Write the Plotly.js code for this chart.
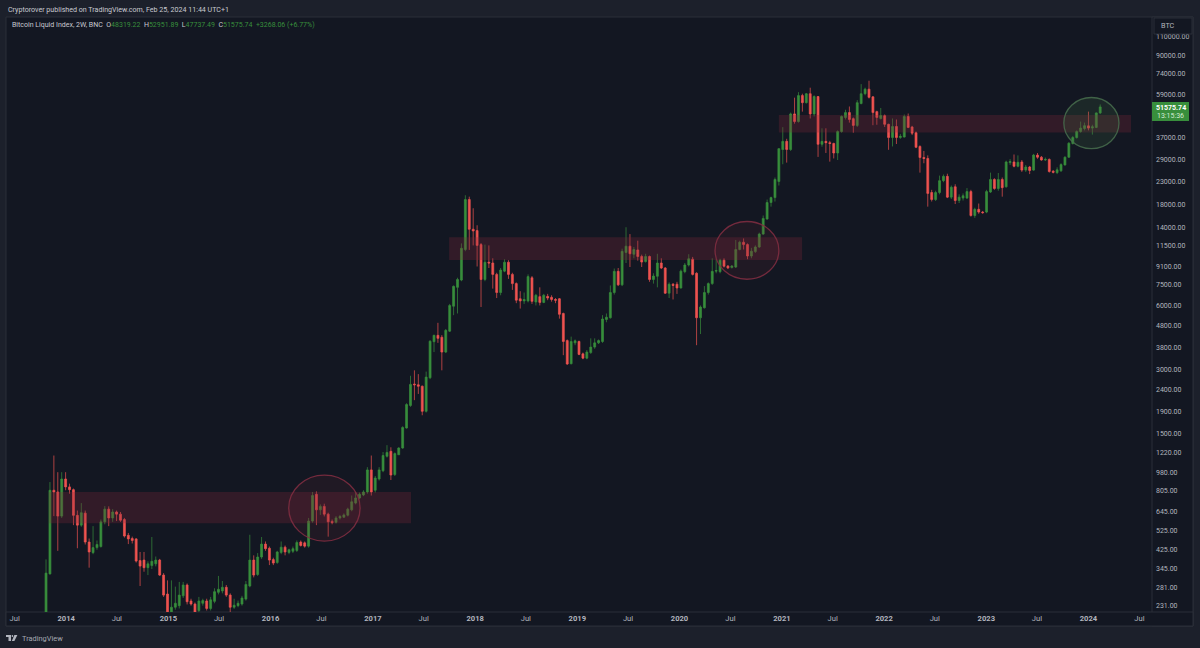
<!DOCTYPE html>
<html>
<head>
<meta charset="utf-8">
<script src="https://cdn.plot.ly/plotly-3.0.1.min.js"></script>
<style>html,body{margin:0;padding:0;background:#1c202b;}</style>
</head>
<body>
<div id="myDiv" style="width:1200px;height:648px;"></div>
<script>
// 2W bars, first bar opens 2013-10-21
let firstBar = '2013-10-21';

let opens = [
  200,327,810,795,612,915,840,815,617,555,
  632,462,412,435,440,575,660,600,640,625,
  590,497,480,478,378,380,350,358,365,380,
  323,263,205,228,232,258,290,244,236,220,
  238,244,225,243,268,272,283,260,228,232,
  236,249,287,380,325,393,452,432,382,370,
  413,437,413,418,422,462,458,442,580,775,
  655,680,625,578,572,600,605,618,655,705,
  745,770,795,1010,810,915,1000,1170,1235,960,
  1190,1280,1590,2030,2560,2540,2500,1905,2740,4050,
  4340,4250,3620,4540,5950,7300,7900,11000,18900,13700,
  13500,11600,7950,9580,9500,8400,6900,8700,9580,8400,
  7600,6450,6300,6300,8100,6230,6600,6200,6620,6550,
  6400,6450,5500,4100,3190,4000,4060,3550,3390,3600,
  3820,4000,4060,5150,5250,6900,8680,7500,10650,11400,
  10450,10950,10200,9650,10200,7950,8230,9500,9000,6850,
  7550,7550,7250,8650,9300,9900,8500,5250,5850,6900,
  7600,8700,8650,9800,9200,9050,9100,11000,11900,11600,
  10250,10750,11300,13000,15300,18300,19300,23000,32500,35500,
  32500,47800,44000,58300,54000,59500,47800,57700,34400,35500,
  35000,34700,31300,39500,46000,48500,45400,42200,53500,59500,
  62500,57500,49000,45500,46900,42700,37000,41700,37000,37200,
  46500,41500,39000,33600,29800,29500,20400,18900,20400,23200,
  24300,19400,21700,18700,19200,19200,20600,15900,17000,16500,
  16500,20500,23500,21300,23500,21700,28200,28400,27100,28400,
  26000,26900,26000,30600,29900,29000,29200,25700,25300,25800,
  27500,29900,34700,37000,39500,40800,42000,41000,41300,48319.22
];
let highs = [
  383,885,1180,985,985,985,870,825,650,705,
  650,480,549,470,590,682,680,660,650,640,
  600,510,490,482,415,415,375,488,395,385,
  330,305,305,285,300,300,295,250,240,255,
  250,250,255,280,320,303,290,265,250,245,
  258,303,500,400,410,488,465,440,390,420,
  465,445,430,440,470,470,465,600,795,800,
  695,700,635,590,612,620,630,670,765,795,
  790,810,1040,1180,945,1040,1225,1320,1290,1220,
  1290,1620,2080,2800,2970,2850,2520,2930,4120,4370,
  4970,4350,4650,6100,7450,8100,11750,19800,19500,17200,
  14300,11800,11600,11500,10000,8550,9000,9900,9800,8550,
  7700,7000,6900,8400,8250,6800,7300,6800,6800,6700,
  6500,6500,5550,4150,4280,4150,4100,3600,3700,4200,
  4200,4150,5400,5500,7450,8950,9000,11100,14000,13000,
  11300,12100,10400,10500,10300,8500,10500,10000,9100,7700,
  7650,7750,8850,9500,10450,10150,8600,6000,7400,7700,
  10000,9900,9950,10000,9300,9300,12200,12100,12400,11750,
  11200,11500,13200,15900,18900,19500,24000,33000,41400,36500,
  48500,57000,60500,59500,60000,63500,58500,58000,40900,40900,
  35700,35000,40000,47000,50000,51800,46000,55500,66000,63500,
  68500,58000,49500,51000,47500,43000,45500,45000,38500,47500,
  48000,42000,39500,34000,32000,30500,21000,20800,24500,24800,
  25000,22000,22300,20000,20200,21400,21000,17300,18100,16700,
  21000,25300,23800,25200,24000,28800,29300,30800,30500,29000,
  27500,27200,31000,31300,30300,29800,29500,26000,26800,28000,
  30200,35200,37600,40000,44000,43500,49000,42500,48600,52951.89
];
let lows = [
  190,325,612,420,600,810,780,555,432,545,
  450,350,405,425,435,560,549,575,580,575,
  485,452,455,370,287,335,323,345,355,320,
  255,190,195,222,225,252,235,232,200,215,
  232,220,220,238,262,265,255,215,224,228,
  232,245,283,315,320,385,420,360,360,365,
  405,400,405,410,415,440,435,435,570,555,
  620,610,490,560,565,590,600,610,645,695,
  735,760,780,765,790,900,985,1155,905,945,
  1190,1270,1580,2000,2150,2300,1825,1880,2700,3620,
  4000,2970,3580,4500,5400,5500,7800,10800,10950,11500,
  9150,5900,7800,9000,7200,6500,6700,8600,8000,7100,
  6150,5800,6100,6200,6100,6000,6000,6150,6350,6250,
  6150,5200,3500,3150,3170,3900,3500,3350,3350,3550,
  3750,3950,4000,5000,5200,6750,7400,7400,9500,9100,
  10000,9750,9100,9550,7750,7600,7300,8900,6800,6500,
  6400,6800,7200,8500,9150,8300,3900,4400,5800,6750,
  7500,8500,8500,9050,8900,8950,9000,10900,11000,9900,
  10000,10600,11200,12900,15200,17500,18500,22000,27700,28200,
  32000,43000,43500,49000,53500,45500,46500,30000,33500,31300,
  28500,29500,29000,39000,45000,43500,39000,41500,53000,58500,
  56500,42300,42500,45000,41500,32400,33600,34500,36500,37000,
  41000,38000,33000,25300,28000,17500,18500,18600,20000,22800,
  19200,19000,18000,18200,18700,19000,15700,15500,16200,16200,
  16300,20300,21000,20800,19500,21500,27500,26800,26800,25500,
  25500,24900,25800,29400,28800,28700,25300,25100,24900,25500,
  27300,29700,34300,36600,39000,40000,40000,38200,41000,47737.49
];
let closes = [
  330,810,795,612,915,840,815,617,555,635,
  462,415,435,450,575,660,600,640,625,585,
  493,478,470,376,356,350,365,375,380,323,
  260,200,228,238,260,290,242,236,215,244,
  245,225,247,270,277,283,260,228,233,238,
  252,292,380,323,393,452,430,380,368,415,
  437,415,425,430,460,445,442,580,765,655,
  680,625,575,570,600,610,620,660,715,745,
  775,795,1010,795,925,1010,1180,1220,955,1205,
  1280,1600,2050,2550,2540,2500,1905,2760,4070,4340,
  4200,3620,4580,6000,7380,7950,11150,18900,13700,13450,
  11500,7950,9580,9500,8400,6900,8800,9580,8400,7600,
  6350,6300,6400,8200,6270,6700,6200,6700,6500,6400,
  6350,5450,4060,3180,4060,4090,3530,3390,3620,3820,
  4000,4100,5180,5280,6900,8680,7500,10780,11400,10500,
  11000,10200,9600,10200,7950,8250,9500,9000,6850,7550,
  7450,7250,8700,9300,9950,8400,5250,5900,6900,7600,
  8680,8750,9800,9170,9000,9200,11000,11900,11600,10250,
  10800,11300,13000,15400,18300,19300,23500,32800,35500,32500,
  47800,44000,58300,54000,59500,47800,57700,34400,35500,35000,
  34700,31300,39500,46500,48500,45000,42200,54000,59500,62500,
  57200,48500,46000,47000,42700,37000,41700,37000,37500,46500,
  41300,38800,33300,29800,29500,20200,18900,20400,23200,24300,
  19400,21600,18700,19400,19700,20600,15900,17000,16500,16400,
  20600,23500,21300,23500,21500,28400,28500,27100,28300,26000,
  26900,25900,30600,29900,29000,29200,25600,25400,26100,27600,
  29900,34800,37000,39500,41000,42100,41000,41600,48319.22,51575.74
];

let priceTicks = [110000,90000,74000,59000,37000,29000,23000,18000,14000,11500,9100,7500,6000,4800,3800,3000,2400,1900,1500,1220,980,805,645,525,425,345,281,231];
let timeTicks = ['2013-07-01','2014-01-01','2014-07-01','2015-01-01','2015-07-01','2016-01-01','2016-07-01','2017-01-01','2017-07-01','2018-01-01','2018-07-01','2019-01-01','2019-07-01','2020-01-01','2020-07-01','2021-01-01','2021-07-01','2022-01-01','2022-07-01','2023-01-01','2023-07-01','2024-01-01','2024-07-01'];
let timeLabels = ['Jul','<b>2014</b>','Jul','<b>2015</b>','Jul','<b>2016</b>','Jul','<b>2017</b>','Jul','<b>2018</b>','Jul','<b>2019</b>','Jul','<b>2020</b>','Jul','<b>2021</b>','Jul','<b>2022</b>','Jul','<b>2023</b>','Jul','<b>2024</b>','Jul'];

// drawn zones: [from, to, top price, bottom price]
let zones = [
  ['2013-11-01','2017-05-17',795,567],
  ['2017-09-30','2021-03-14',12560,9820],
  ['2020-12-21','2024-06-01',47240,39060]
];
let circles = [
  ['2016-03-06','2016-11-16',955,467,'red'],
  ['2020-05-07','2020-12-21',14900,7970,'red'],
  ['2023-10-05','2024-04-19',57100,32800,'green']
];

let bg = '#131722', frame = '#1c202b', edge = '#2a2e39', txt = '#b2b5be';
let up = '#388e3c', down = '#ef5350';

let barDates = opens.map((v, i) => {
  let d = new Date(firstBar + 'T00:00:00Z');
  d.setUTCDate(d.getUTCDate() + 14*i);
  return d.toISOString().slice(0, 10);
});

// page pixels to paper fractions, plot area is x 6..1152, y 17..612
let px = x => (x - 6)/1146;
let py = y => (612 - y)/595;

let paperRect = (x0, y0, x1, y1, fill, lineColor, layer) => ({
  type: 'rect', xref: 'paper', yref: 'paper',
  x0: px(x0), x1: px(x1), y0: py(y0), y1: py(y1),
  fillcolor: fill, line: {color: lineColor || 'rgba(0,0,0,0)', width: lineColor ? 1 : 0},
  layer: layer || 'below'
});

let shapes = [
  paperRect(6, 17, 1193, 626, bg, edge),
  paperRect(1152, 17, 1193, 626, bg, edge),
  paperRect(6, 612, 1193, 626, bg, edge)
];
zones.forEach(z => shapes.push({
  type: 'rect', xref: 'x', yref: 'y', x0: z[0], x1: z[1], y0: z[3], y1: z[2],
  fillcolor: 'rgba(132,38,56,0.28)', line: {width: 0}, layer: 'above'
}));
circles.forEach(c => shapes.push({
  type: 'circle', xref: 'x', yref: 'y', x0: c[0], x1: c[1], y0: c[3], y1: c[2],
  fillcolor: c[4] == 'red' ? 'rgba(132,38,56,0.12)' : 'rgba(70,120,70,0.18)',
  line: {color: c[4] == 'red' ? 'rgba(132,46,66,0.85)' : 'rgba(72,110,78,0.85)', width: 1.3},
  layer: 'above'
}));
// symbol box, last price tag
shapes.push(paperRect(1154, 18, 1192, 34, bg, edge, 'above'));
shapes.push(paperRect(1152, 102, 1189, 121, up, null, 'above'));
// TradingView logo
shapes.push(paperRect(6, 635, 11, 637, '#b2b5be', null, 'above'));
shapes.push(paperRect(8.5, 637, 11, 641, '#b2b5be', null, 'above'));
shapes.push({type: 'circle', xref: 'paper', yref: 'paper', x0: px(11.6), x1: px(13.2), y0: py(637), y1: py(635), fillcolor: '#b2b5be', line: {width: 0}, layer: 'above'});
shapes.push({type: 'path', xref: 'paper', yref: 'paper',
  path: 'M ' + px(14.4) + ' ' + py(635) + ' L ' + px(17.4) + ' ' + py(635) + ' L ' + px(14.4) + ' ' + py(641) + ' L ' + px(11.8) + ' ' + py(641) + ' Z',
  fillcolor: '#b2b5be', line: {width: 0}, layer: 'above'});

let note = (x, y, text, size, color, anchor) => ({
  xref: 'paper', yref: 'paper', x: px(x), y: py(y), text: text, showarrow: false,
  xanchor: anchor || 'left', yanchor: 'middle',
  font: {family: 'Roboto, sans-serif', size: size, color: color}
});

let g = s => '<span style="color:' + up + '">' + s + '</span>';
let annotations = [
  note(6, 9, 'Cryptorover published on TradingView.com, Feb 25, 2024 11:44 UTC+1', 7.1, '#c8cad1'),
  note(10, 25, 'Bitcoin Liquid Index, 2W, BNC  O' + g('48319.22') + '  H' + g('52951.89') + '  L' + g('47737.49') + '  C' + g('51575.74') + '  ' + g('+3268.06 (+6.77%)'), 7, '#c8cad1'),
  note(1159, 26, 'BTC', 7.2, txt),
  note(1170.5, 107.5, '<b>51575.74</b>', 7, '#ffffff', 'center'),
  note(1170.5, 116, '13:15:36', 7, '#d5ecd6', 'center'),
  note(20, 638, 'TradingView', 7.4, '#a6a9b2')
];

let trace = {
  type: 'candlestick', x: barDates, open: opens, high: highs, low: lows, close: closes,
  increasing: {line: {color: up, width: 0.7}, fillcolor: up},
  decreasing: {line: {color: down, width: 0.7}, fillcolor: down},
  whiskerwidth: 0, hoverinfo: 'skip', showlegend: false
};

let layout = {
  width: 1200, height: 648,
  margin: {l: 6, r: 48, t: 17, b: 36},
  paper_bgcolor: frame, plot_bgcolor: bg,
  showlegend: false, hovermode: false,
  xaxis: {
    type: 'date', range: ['2013-05-31', '2024-08-15'],
    rangeslider: {visible: false}, showgrid: false, zeroline: false, showline: false,
    tickmode: 'array', tickvals: timeTicks, ticktext: timeLabels, ticks: '',
    tickangle: 0, tickfont: {family: 'Roboto, sans-serif', size: 7.6, color: txt}
  },
  yaxis: {
    type: 'log', side: 'right', range: [2.3355, 5.1355],
    showgrid: false, zeroline: false, showline: false,
    tickmode: 'array', tickvals: priceTicks, ticktext: priceTicks.map(v => v.toFixed(2)),
    ticks: '', ticklabelstandoff: 3,
    tickfont: {family: 'Roboto, sans-serif', size: 7, color: txt}
  },
  shapes: shapes,
  annotations: annotations
};

Plotly.newPlot('myDiv', [trace], layout, {displayModeBar: false, staticPlot: true});
</script>
</body>
</html>
